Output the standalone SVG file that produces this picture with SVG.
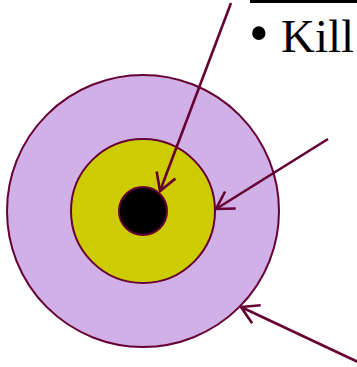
<svg xmlns="http://www.w3.org/2000/svg" width="357" height="367" viewBox="0 0 357 367">
<defs>
<marker id="ah" markerWidth="24" markerHeight="24" viewBox="-20 -12 22 24" refX="0" refY="0" orient="auto" markerUnits="userSpaceOnUse">
<path d="M-17,-10 L0,0 L-17,10" fill="none" stroke="#660033" stroke-width="2.6"/>
</marker>
<style>
.ring{stroke:#660033;stroke-width:2}
.arr{stroke:#660033;stroke-width:2.6;fill:none;marker-end:url(#ah)}
</style>
</defs>
<rect width="357" height="367" fill="#ffffff"/>
<g id="outer"><circle class="ring" cx="143" cy="211" r="136" fill="#D1AFE7"/></g>
<g id="middle"><circle class="ring" cx="143" cy="211" r="72" fill="#CCCC00"/></g>
<g id="inner"><circle class="ring" cx="143" cy="211" r="24" fill="#000000"/></g>
<g id="connectors">
<line class="arr" x1="231" y1="3" x2="160" y2="191"/>
<line class="arr" x1="328" y1="139" x2="216" y2="209"/>
<line class="arr" x1="358" y1="362" x2="241" y2="307"/>
</g>
<g id="label">
<rect x="250" y="0" width="107" height="3" fill="#000000"/>
<text font-family="Liberation Serif, serif" fill="#000000"><tspan x="249" y="52" font-size="56">•</tspan><tspan x="281" y="52" font-size="47">Kill</tspan></text>
</g>
</svg>
